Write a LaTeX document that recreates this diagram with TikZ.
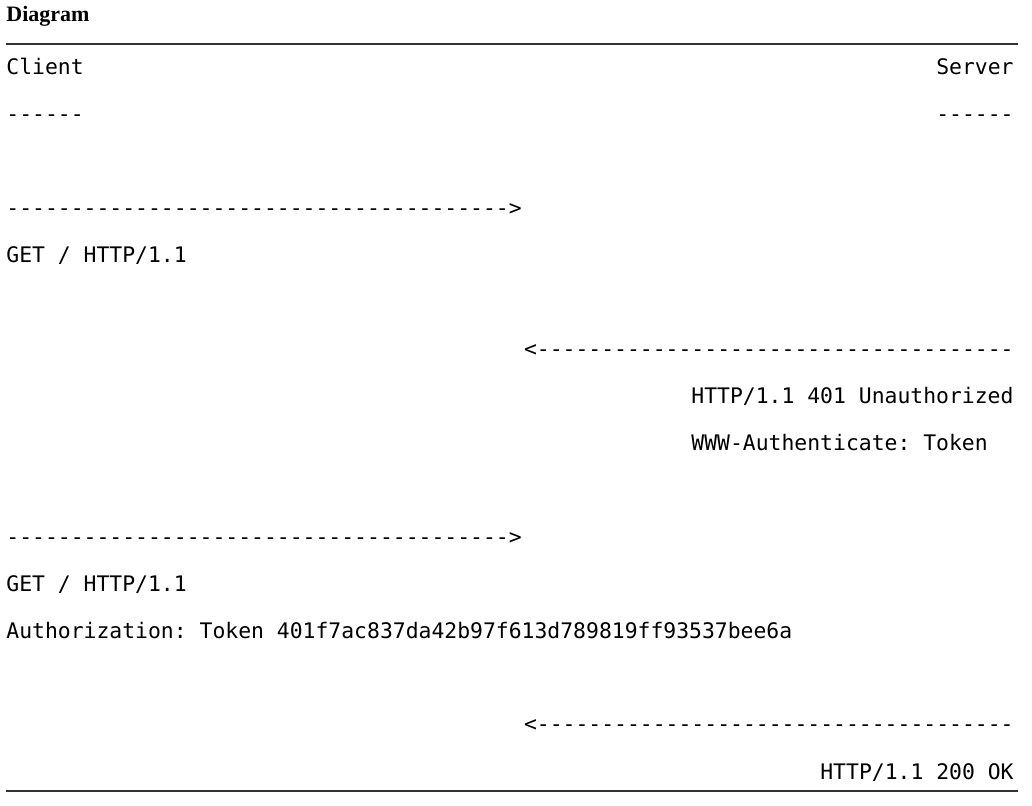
\documentclass[tikz,border=0pt]{standalone}
\usepackage{fontspec}
\setmainfont{Liberation Serif}
\setmonofont{DejaVu Sans Mono}

\begin{document}
\begin{tikzpicture}[x=0.5pt, y=-0.5pt,
  msg/.style={inner sep=0pt, font=\ttfamily\fontsize{10.7}{12}\selectfont},
  lft/.style={msg, anchor=base west},
  rgt/.style={msg, anchor=base east},
  rule/.style={line width=0.75pt, black!80}]
\useasboundingbox (0,0) rectangle (1032,806);

% Title and frame lines
\node[inner sep=0pt, anchor=base west, font=\bfseries\fontsize{11}{13}\selectfont] (title) at (6,22) {Diagram};
\coordinate (topL) at (6,44);
\coordinate (topR) at (1018,44);
\coordinate (botL) at (6,791);
\coordinate (botR) at (1018,791);
\draw[rule] (topL) -- (topR);
\draw[rule] (botL) -- (botR);

% Endpoints
\node[lft] (client) at (6,75) {Client};
\node[lft] (clientul) at (6,122) {------};
\node[rgt] (server) at (1014,75) {Server};
\node[rgt] (serverul) at (1014,122) {------};

% First request
\node[lft] (req1) at (6,216) {--------------------------------------->};
\node[lft] (get1) at (6,263) {GET / HTTP/1.1};

% Challenge
\node[rgt] (resp1) at (1014,357) {<-------------------------------------};
\node[lft] (status1) at (691,404) {HTTP/1.1 401 Unauthorized};
\node[lft] (wwwauth) at (691,451) {WWW-Authenticate: Token};

% Second request with token
\node[lft] (req2) at (6,544) {--------------------------------------->};
\node[lft] (get2) at (6,591) {GET / HTTP/1.1};
\node[lft] (authz) at (6,638) {Authorization: Token 401f7ac837da42b97f613d789819ff93537bee6a};

% Success
\node[rgt] (resp2) at (1014,731) {<-------------------------------------};
\node[rgt] (status2) at (1014,779) {HTTP/1.1 200 OK};

\end{tikzpicture}
\end{document}
